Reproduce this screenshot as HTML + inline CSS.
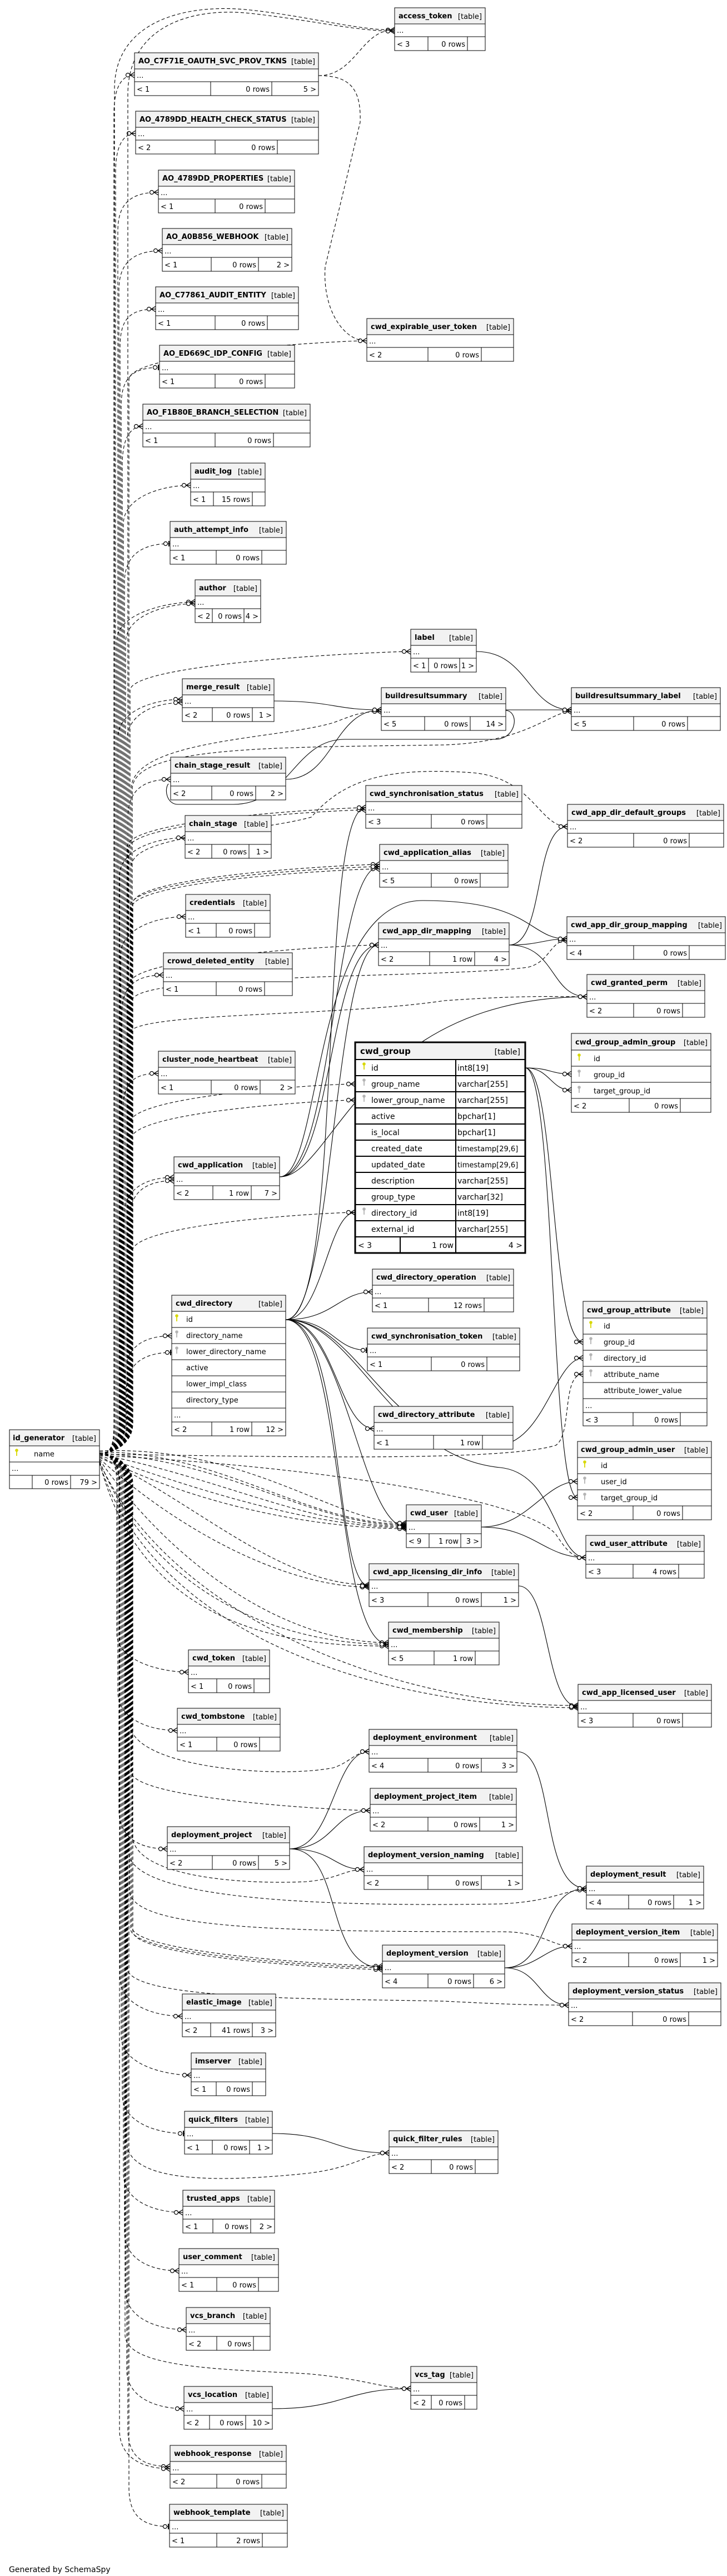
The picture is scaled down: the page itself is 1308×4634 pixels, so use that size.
<!DOCTYPE html>
<html><head><meta charset="utf-8"><style>
html,body{margin:0;padding:0;background:#fff}
svg{display:block}
text{font-family:"DejaVu Sans","Liberation Sans",sans-serif;font-size:13px;fill:#000}
.tn{font-weight:bold}
.e{text-anchor:end}
.bx{fill:#fff;stroke:#000;stroke-width:1}
.hd{fill:#f2f2f2;stroke:#000;stroke-width:1}
.ln{stroke:#000;fill:none;stroke-width:1}
.d{fill:none;stroke:#000;stroke-width:1.1;stroke-dasharray:6 4}
.s{fill:none;stroke:#000;stroke-width:1.1}
</style></head><body>
<svg xmlns="http://www.w3.org/2000/svg" width="1308" height="4634" viewBox="0 0 1308 4634">
<defs>
<marker id="cf" markerUnits="userSpaceOnUse" markerWidth="30" markerHeight="20" viewBox="-20 -10 30 20" refX="0" refY="0" orient="auto" overflow="visible"><path d="M0 -5L-8 0L0 5M0 0L-8 0" fill="none" stroke="#000" stroke-width="1.3" stroke-dasharray="none"/><circle cx="-12" cy="0" r="3.5" fill="#fff" stroke="#000" stroke-width="1.2" stroke-dasharray="none"/></marker>
<marker id="zo" markerUnits="userSpaceOnUse" markerWidth="30" markerHeight="20" viewBox="-20 -10 30 20" refX="0" refY="0" orient="auto" overflow="visible"><path d="M-2 -5V5" fill="none" stroke="#000" stroke-width="2" stroke-dasharray="none"/><circle cx="-8" cy="0" r="3.5" fill="#fff" stroke="#000" stroke-width="1.2" stroke-dasharray="none"/></marker>
<g id="kp"><circle cx="0" cy="0" r="2.8" fill="#d8d800"/><rect x="-0.9" y="0" width="1.8" height="10" fill="#d8d800"/></g>
<g id="kf"><circle cx="0" cy="0" r="2.8" fill="#b4b4b4"/><rect x="-0.9" y="0" width="1.8" height="10" fill="#b4b4b4"/></g>
</defs>

<g class="d">
<path marker-end="url(#cf)" d="M179 2615C200 2615 205 2600 205 2560L205 205C205 155 220 135 242 135"/>
<path marker-end="url(#cf)" d="M179 2615C200 2615 208 2600 208 2560L208 310C208 260 223 240 244 240"/>
<path marker-end="url(#cf)" d="M179 2615C200 2615 212 2600 212 2560L212 416C212 366 235 346 285 346"/>
<path marker-end="url(#cf)" d="M179 2615C200 2615 214 2600 214 2560L214 521C214 471 242 451 292 451"/>
<path marker-end="url(#cf)" d="M179 2615C200 2615 216 2600 216 2560L216 626C216 576 231 556 280 556"/>
<path marker-end="url(#zo)" d="M179 2615C200 2615 218 2600 218 2560L218 731C218 681 237 661 287 661"/>
<path marker-end="url(#cf)" d="M179 2615C200 2615 220 2600 220 2560L220 837C220 787 235 767 257 767"/>
<path marker-end="url(#cf)" d="M179 2615C200 2615 222 2600 222 2560L222 943C222 893 293 873 343 873"/>
<path marker-end="url(#zo)" d="M179 2615C200 2615 224 2600 224 2560L224 1048C224 998 256 978 306 978"/>
<path marker-end="url(#cf)" d="M179 2615C200 2615 210 2600 210 2560L210 1153C210 1103 301 1083 351 1083"/>
<path marker-end="url(#cf)" d="M179 2615C200 2615 226 2600 226 2560L226 1156C226 1106 301 1086 351 1086"/>
<path marker-end="url(#cf)" d="M179 2615C200 2615 212 2600 212 2560L212 1328C212 1278 278 1258 328 1258"/>
<path marker-end="url(#cf)" d="M179 2615C200 2615 228 2600 228 2560L228 1334C228 1284 278 1264 328 1264"/>
<path marker-end="url(#cf)" d="M179 2615C200 2615 230 2600 230 2560L230 1472C230 1422 257 1402 307 1402"/>
<path marker-end="url(#cf)" d="M179 2615C200 2615 215 2600 215 2560L215 1577C215 1527 283 1507 333 1507"/>
<path marker-end="url(#cf)" d="M179 2615C200 2615 217 2600 217 2560L217 1719C217 1669 284 1649 334 1649"/>
<path marker-end="url(#cf)" d="M179 2615C200 2615 219 2600 219 2560L219 1824C219 1774 244 1754 294 1754"/>
<path marker-end="url(#cf)" d="M179 2615C200 2615 221 2600 221 2560L221 2001C221 1951 236 1931 285 1931"/>
<path marker-end="url(#cf)" d="M179 2615C200 2615 223 2600 223 2560L223 2188C223 2138 263 2118 313 2118"/>
<path marker-end="url(#cf)" d="M179 2615C200 2615 233 2600 233 2560L233 2194C233 2144 263 2124 313 2124"/>
<path marker-end="url(#cf)" d="M179 2615C200 2615 225 2600 225 2560L225 2473C225 2423 259 2403 309 2403"/>
<path marker-end="url(#zo)" d="M179 2615C200 2615 227 2600 227 2580L227 2503C227 2453 259 2433 309 2433"/>
<path marker-end="url(#cf)" d="M179 2615C200 2615 206 2600 206 2560L206 160C206 40 330 5 450 18C560 30 640 54 710 54"/>
<path marker-end="url(#cf)" d="M179 2615C200 2615 230 2600 230 2560L230 170C230 50 340 12 450 24C560 36 640 56 710 56"/>
<path marker-end="url(#cf)" d="M179 2615C200 2615 232 2600 232 2560L232 683C232 633 610 613 660 613"/>
<path marker-end="url(#cf)" d="M179 2615C200 2615 234 2600 234 2560L234 1242C234 1192 689 1172 739 1172"/>
<path marker-end="url(#cf)" d="M179 2615C200 2615 236 2600 236 2560L236 1420C236 1330 500 1330 600 1300C640 1285 650 1280 686 1280"/>
<path marker-end="url(#cf)" d="M179 2615C200 2615 238 2600 238 2560L238 1420C238 1340 500 1345 800 1340C950 1335 990 1280 1028 1280"/>
<path marker-end="url(#cf)" d="M179 2615C200 2615 229 2600 229 2560L229 1523C229 1473 608 1453 658 1453"/>
<path marker-end="url(#cf)" d="M179 2615C200 2615 231 2600 231 2560L231 1527C231 1477 608 1457 658 1457"/>
<path marker-end="url(#cf)" d="M179 2615C200 2615 235 2600 235 2560L235 1629C235 1579 633 1559 683 1559"/>
<path marker-end="url(#cf)" d="M179 2615C200 2615 237 2600 237 2560L237 1633C237 1583 633 1563 683 1563"/>
<path marker-end="url(#cf)" d="M179 2615C200 2615 239 2600 239 2560L239 1625C239 1575 633 1555 683 1555"/>
<path marker-end="url(#cf)" d="M179 2615C200 2615 233 2600 233 2560L233 1770C233 1720 631 1700 681 1700"/>
<path marker-end="url(#cf)" d="M179 2615C200 2615 236 2600 236 2560L236 1560C236 1500 450 1500 560 1470C620 1400 700 1380 850 1390C960 1400 970 1487 1021 1487"/>
<path marker-end="url(#cf)" d="M179 2615C200 2615 238 2600 238 2560L238 1800C238 1750 800 1760 950 1740C990 1730 990 1692 1020 1692"/>
<path marker-end="url(#cf)" d="M179 2615C200 2615 232 2600 232 2560L232 1860C232 1820 600 1830 800 1800C950 1790 1000 1793 1056 1793"/>
<path marker-end="url(#cf)" d="M179 2615C200 2615 234 2600 234 2560L234 2020C234 1970 589 1950 639 1950"/>
<path marker-end="url(#cf)" d="M179 2615C200 2615 236 2600 236 2560L236 2049C236 1999 589 1979 639 1979"/>
<path marker-end="url(#cf)" d="M179 2615C200 2615 238 2600 238 2560L238 2251C238 2201 589 2181 639 2181"/>
<path marker-end="url(#cf)" d="M179 2615C200 2615 210 2630 210 2670L210 2938C210 2988 289 3008 339 3008"/>
<path marker-end="url(#cf)" d="M179 2615C200 2615 212 2630 212 2670L212 3043C212 3093 269 3113 319 3113"/>
<path marker-end="url(#cf)" d="M179 2615C200 2615 214 2630 214 2670L214 3256C214 3306 251 3326 301 3326"/>
<path marker-end="url(#cf)" d="M179 2615C200 2615 216 2630 216 2670L216 3557C216 3607 278 3627 328 3627"/>
<path marker-end="url(#cf)" d="M179 2615C200 2615 218 2630 218 2670L218 3663C218 3713 294 3733 344 3733"/>
<path marker-end="url(#zo)" d="M179 2615C200 2615 220 2630 220 2670L220 3768C220 3818 282 3838 332 3838"/>
<path marker-end="url(#cf)" d="M179 2615C200 2615 222 2630 222 2670L222 3910C222 3960 279 3980 329 3980"/>
<path marker-end="url(#cf)" d="M179 2615C200 2615 224 2630 224 2670L224 4015C224 4065 272 4085 322 4085"/>
<path marker-end="url(#cf)" d="M179 2615C200 2615 226 2630 226 2670L226 4121C226 4171 285 4191 335 4191"/>
<path marker-end="url(#cf)" d="M179 2615C200 2615 228 2630 228 2670L228 4263C228 4313 281 4333 331 4333"/>
<path marker-end="url(#cf)" d="M179 2615C200 2615 230 2630 230 2670L230 4369C230 4419 256 4437 306 4437"/>
<path marker-end="url(#cf)" d="M179 2615C200 2615 215 2630 215 2670L215 4371C215 4421 256 4441 306 4441"/>
<path marker-end="url(#zo)" d="M179 2615C200 2615 232 2630 232 2670L232 4475C232 4525 255 4545 305 4545"/>
<path marker-end="url(#cf)" d="M179 2615C200 2615 234 2630 234 2670L234 3100C234 3180 500 3200 600 3180C630 3170 640 3151 664 3151"/>
<path marker-end="url(#cf)" d="M179 2615C200 2615 236 2630 236 2670L236 3187C236 3237 616 3257 666 3257"/>
<path marker-end="url(#cf)" d="M179 2615C200 2615 238 2630 238 2670L238 3300C238 3380 450 3390 550 3385C610 3380 620 3363 655 3363"/>
<path marker-end="url(#cf)" d="M179 2615C200 2615 231 2630 231 2670L231 3330C231 3420 600 3430 900 3425C1000 3420 1010 3400 1055 3400"/>
<path marker-end="url(#cf)" d="M179 2615C200 2615 233 2630 233 2670L233 3400C233 3470 500 3475 900 3475C980 3475 990 3501 1029 3501"/>
<path marker-end="url(#cf)" d="M179 2615C200 2615 235 2630 235 2670L235 3470C235 3520 638 3540 688 3540"/>
<path marker-end="url(#cf)" d="M179 2615C200 2615 237 2630 237 2670L237 3466C237 3516 638 3537 688 3537"/>
<path marker-end="url(#cf)" d="M179 2615C200 2615 239 2630 239 2670L239 3474C239 3524 638 3543 688 3543"/>
<path marker-end="url(#cf)" d="M179 2615C200 2615 229 2630 229 2670L229 3540C229 3600 600 3595 800 3600C900 3605 950 3607 1023 3607"/>
<path marker-end="url(#cf)" d="M179 2615C200 2615 227 2630 227 2670L227 3850C227 3930 400 3925 550 3910C640 3900 660 3873 700 3873"/>
<path marker-end="url(#cf)" d="M179 2615C200 2615 225 2630 225 2670L225 4200C225 4260 400 4262 550 4270C650 4278 690 4297 739 4297"/>
<path marker-end="url(#cf)" d="M179 2612C400 2612 550 2742 731 2742"/>
<path marker-end="url(#cf)" d="M179 2614C420 2630 560 2744 731 2744"/>
<path marker-end="url(#cf)" d="M179 2616C400 2660 560 2746 731 2746"/>
<path marker-end="url(#cf)" d="M179 2618C380 2690 580 2748 731 2748"/>
<path marker-end="url(#cf)" d="M179 2620C380 2720 600 2750 731 2750"/>
<path marker-end="url(#cf)" d="M179 2610C450 2600 600 2740 731 2740"/>
<path marker-end="url(#cf)" d="M179 2622C350 2700 500 2851 664 2851"/>
<path marker-end="url(#cf)" d="M179 2624C330 2760 520 2855 664 2855"/>
<path marker-end="url(#cf)" d="M179 2626C300 2800 500 2955 699 2955"/>
<path marker-end="url(#cf)" d="M179 2628C280 2880 520 2958 699 2958"/>
<path marker-end="url(#cf)" d="M179 2630C260 2950 560 2961 699 2961"/>
<path marker-end="url(#cf)" d="M179 2618C600 2640 950 2700 1000 2760C1020 2790 1030 2802 1054 2802"/>
<path marker-end="url(#cf)" d="M179 2630C300 2900 700 3070 1040 3068"/>
<path marker-end="url(#cf)" d="M179 2632C280 2950 700 3072 1040 3072"/>
<path marker-end="url(#cf)" d="M179 2616C500 2620 900 2630 1000 2600C1030 2580 1010 2472 1049 2472"/>
<path d="M573 136C640 136 650 54 708 54"/>
<path d="M573 136C630 136 650 160 648 220L585 480C580 560 620 613 658 613"/>
</g>

<g class="s">
<path marker-end="url(#cf)" d="M514 2374C600 2374 610 2324 670 2324"/>
<path marker-end="url(#zo)" d="M514 2374C600 2374 600 2429 661 2429"/>
<path marker-end="url(#cf)" d="M514 2374C600 2374 610 2570 673 2570"/>
<path marker-end="url(#cf)" d="M514 2374C650 2374 700 2620 900 2600C980 2590 1000 2443 1049 2443"/>
<path marker-end="url(#cf)" d="M514 2374C620 2374 650 2747 731 2747"/>
<path marker-end="url(#cf)" d="M514 2374C620 2374 600 2853 664 2853"/>
<path marker-end="url(#cf)" d="M514 2374C620 2374 600 2958 699 2958"/>
<path marker-end="url(#cf)" d="M514 2374C580 2374 590 2181 639 2181"/>
<path marker-end="url(#cf)" d="M514 2374C600 2374 600 1700 681 1700"/>
<path marker-end="url(#cf)" d="M514 2374C620 2374 570 1453 658 1453"/>
<path marker-end="url(#cf)" d="M514 2374C640 2374 700 2620 900 2640C1000 2650 1000 2802 1054 2802"/>
<path marker-end="url(#cf)" d="M945 1921C990 1921 990 1932 1028 1932"/>
<path marker-end="url(#cf)" d="M945 1921C990 1921 990 1961 1028 1961"/>
<path marker-end="url(#cf)" d="M945 1921C1000 1921 990 2414 1049 2414"/>
<path marker-end="url(#cf)" d="M945 1921C1000 1921 990 2694 1039 2694"/>
<path marker-end="url(#cf)" d="M866 2747C950 2747 980 2665 1039 2665"/>
<path marker-end="url(#cf)" d="M866 2747C960 2747 980 2802 1054 2802"/>
<path marker-end="url(#cf)" d="M503 2117C600 2117 590 1700 681 1700"/>
<path marker-end="url(#cf)" d="M503 2117C600 2117 600 1559 683 1559"/>
<path marker-end="url(#cf)" d="M503 2117C580 2117 560 1620 760 1620C960 1620 950 1689 1020 1689"/>
<path marker-end="url(#cf)" d="M503 2117C600 2117 650 1795 1056 1793"/>
<path marker-end="url(#cf)" d="M916 1700C980 1700 960 1487 1021 1487"/>
<path marker-end="url(#cf)" d="M916 1700C970 1700 980 1689 1020 1689"/>
<path marker-end="url(#cf)" d="M916 1700C1000 1700 990 1793 1056 1793"/>
<path marker-end="url(#cf)" d="M933 2853C990 2853 980 3070 1040 3070"/>
<path marker-end="url(#cf)" d="M493 1261C600 1261 600 1277 686 1277"/>
<path marker-end="url(#cf)" d="M514 1402C600 1402 600 1277 686 1277"/>
<path marker-end="url(#cf)" d="M910 1277L1028 1277"/>
<path marker-end="url(#cf)" d="M857 1172C950 1172 950 1277 1028 1277"/>
<path d="M910 1278C935 1280 930 1330 890 1330L620 1330C530 1330 520 1447 420 1447L320 1447C300 1447 295 1420 303 1410"/>
<path marker-end="url(#cf)" d="M521 3326C600 3326 600 3151 664 3151"/>
<path marker-end="url(#cf)" d="M521 3326C600 3326 600 3257 666 3257"/>
<path marker-end="url(#cf)" d="M521 3326C600 3326 600 3363 655 3363"/>
<path marker-end="url(#cf)" d="M521 3326C620 3326 580 3540 688 3540"/>
<path marker-end="url(#cf)" d="M930 3151C1000 3151 970 3397 1055 3397"/>
<path marker-end="url(#cf)" d="M908 3540C990 3540 970 3397 1055 3397"/>
<path marker-end="url(#cf)" d="M908 3540C970 3540 980 3501 1029 3501"/>
<path marker-end="url(#cf)" d="M908 3540C970 3540 970 3607 1023 3607"/>
<path marker-end="url(#cf)" d="M490 3838C600 3838 600 3873 700 3873"/>
<path marker-end="url(#cf)" d="M490 4333C620 4333 620 4297 739 4297"/>
</g>

<g transform="translate(710,14)"><rect class="bx" width="163" height="77"/><rect class="hd" width="163" height="29"/><path class="ln" d="M0 52H163M60 52V77M131 52V77"/><text class="tn" x="7" y="19">access_token</text><text class="e" x="157" y="20">[table]</text><text x="4" y="45">...</text><text x="4" y="70">&lt; 3</text><text class="e" x="127" y="70">0 rows</text></g>
<g transform="translate(242,95)"><rect class="bx" width="331" height="77"/><rect class="hd" width="331" height="29"/><path class="ln" d="M0 52H331M137 52V77M247 52V77"/><text class="tn" x="7" y="19">AO_C7F71E_OAUTH_SVC_PROV_TKNS</text><text class="e" x="325" y="20">[table]</text><text x="4" y="45">...</text><text x="4" y="70">&lt; 1</text><text class="e" x="243" y="70">0 rows</text><text class="e" x="327" y="70">5 &gt;</text></g>
<g transform="translate(244,200)"><rect class="bx" width="329" height="77"/><rect class="hd" width="329" height="29"/><path class="ln" d="M0 52H329M143 52V77M255 52V77"/><text class="tn" x="7" y="19">AO_4789DD_HEALTH_CHECK_STATUS</text><text class="e" x="323" y="20">[table]</text><text x="4" y="45">...</text><text x="4" y="70">&lt; 2</text><text class="e" x="251" y="70">0 rows</text></g>
<g transform="translate(285,306)"><rect class="bx" width="245" height="77"/><rect class="hd" width="245" height="29"/><path class="ln" d="M0 52H245M102 52V77M192 52V77"/><text class="tn" x="7" y="19">AO_4789DD_PROPERTIES</text><text class="e" x="239" y="20">[table]</text><text x="4" y="45">...</text><text x="4" y="70">&lt; 1</text><text class="e" x="188" y="70">0 rows</text></g>
<g transform="translate(292,411)"><rect class="bx" width="233" height="77"/><rect class="hd" width="233" height="29"/><path class="ln" d="M0 52H233M88 52V77M173 52V77"/><text class="tn" x="7" y="19">AO_A0B856_WEBHOOK</text><text class="e" x="227" y="20">[table]</text><text x="4" y="45">...</text><text x="4" y="70">&lt; 1</text><text class="e" x="169" y="70">0 rows</text><text class="e" x="229" y="70">2 &gt;</text></g>
<g transform="translate(280,516)"><rect class="bx" width="257" height="77"/><rect class="hd" width="257" height="29"/><path class="ln" d="M0 52H257M107 52V77M201 52V77"/><text class="tn" x="7" y="19">AO_C77861_AUDIT_ENTITY</text><text class="e" x="251" y="20">[table]</text><text x="4" y="45">...</text><text x="4" y="70">&lt; 1</text><text class="e" x="197" y="70">0 rows</text></g>
<g transform="translate(287,621)"><rect class="bx" width="243" height="77"/><rect class="hd" width="243" height="29"/><path class="ln" d="M0 52H243M100 52V77M190 52V77"/><text class="tn" x="7" y="19">AO_ED669C_IDP_CONFIG</text><text class="e" x="237" y="20">[table]</text><text x="4" y="45">...</text><text x="4" y="70">&lt; 1</text><text class="e" x="186" y="70">0 rows</text></g>
<g transform="translate(257,727)"><rect class="bx" width="301" height="77"/><rect class="hd" width="301" height="29"/><path class="ln" d="M0 52H301M130 52V77M235 52V77"/><text class="tn" x="7" y="19">AO_F1B80E_BRANCH_SELECTION</text><text class="e" x="295" y="20">[table]</text><text x="4" y="45">...</text><text x="4" y="70">&lt; 1</text><text class="e" x="231" y="70">0 rows</text></g>
<g transform="translate(660,573)"><rect class="bx" width="264" height="77"/><rect class="hd" width="264" height="29"/><path class="ln" d="M0 52H264M110 52V77M206 52V77"/><text class="tn" x="7" y="19">cwd_expirable_user_token</text><text class="e" x="258" y="20">[table]</text><text x="4" y="45">...</text><text x="4" y="70">&lt; 2</text><text class="e" x="202" y="70">0 rows</text></g>
<g transform="translate(343,833)"><rect class="bx" width="134" height="77"/><rect class="hd" width="134" height="29"/><path class="ln" d="M0 52H134M41 52V77M111 52V77"/><text class="tn" x="7" y="19">audit_log</text><text class="e" x="128" y="20">[table]</text><text x="4" y="45">...</text><text x="4" y="70">&lt; 1</text><text class="e" x="107" y="70">15 rows</text></g>
<g transform="translate(306,938)"><rect class="bx" width="209" height="77"/><rect class="hd" width="209" height="29"/><path class="ln" d="M0 52H209M83 52V77M165 52V77"/><text class="tn" x="7" y="19">auth_attempt_info</text><text class="e" x="203" y="20">[table]</text><text x="4" y="45">...</text><text x="4" y="70">&lt; 1</text><text class="e" x="161" y="70">0 rows</text></g>
<g transform="translate(351,1043)"><rect class="bx" width="118" height="77"/><rect class="hd" width="118" height="29"/><path class="ln" d="M0 52H118M31 52V77M88 52V77"/><text class="tn" x="7" y="19">author</text><text class="e" x="112" y="20">[table]</text><text x="4" y="45">...</text><text x="4" y="70">&lt; 2</text><text class="e" x="84" y="70">0 rows</text><text class="e" x="114" y="70">4 &gt;</text></g>
<g transform="translate(739,1132)"><rect class="bx" width="118" height="77"/><rect class="hd" width="118" height="29"/><path class="ln" d="M0 52H118M32 52V77M88 52V77"/><text class="tn" x="7" y="19">label</text><text class="e" x="112" y="20">[table]</text><text x="4" y="45">...</text><text x="4" y="70">&lt; 1</text><text class="e" x="84" y="70">0 rows</text><text class="e" x="114" y="70">1 &gt;</text></g>
<g transform="translate(328,1221)"><rect class="bx" width="165" height="77"/><rect class="hd" width="165" height="29"/><path class="ln" d="M0 52H165M54 52V77M126 52V77"/><text class="tn" x="7" y="19">merge_result</text><text class="e" x="159" y="20">[table]</text><text x="4" y="45">...</text><text x="4" y="70">&lt; 2</text><text class="e" x="122" y="70">0 rows</text><text class="e" x="161" y="70">1 &gt;</text></g>
<g transform="translate(686,1237)"><rect class="bx" width="224" height="77"/><rect class="hd" width="224" height="29"/><path class="ln" d="M0 52H224M78 52V77M160 52V77"/><text class="tn" x="7" y="19">buildresultsummary</text><text class="e" x="218" y="20">[table]</text><text x="4" y="45">...</text><text x="4" y="70">&lt; 5</text><text class="e" x="156" y="70">0 rows</text><text class="e" x="220" y="70">14 &gt;</text></g>
<g transform="translate(1028,1237)"><rect class="bx" width="268" height="77"/><rect class="hd" width="268" height="29"/><path class="ln" d="M0 52H268M112 52V77M209 52V77"/><text class="tn" x="7" y="19">buildresultsummary_label</text><text class="e" x="262" y="20">[table]</text><text x="4" y="45">...</text><text x="4" y="70">&lt; 5</text><text class="e" x="205" y="70">0 rows</text></g>
<g transform="translate(307,1362)"><rect class="bx" width="207" height="77"/><rect class="hd" width="207" height="29"/><path class="ln" d="M0 52H207M74 52V77M153 52V77"/><text class="tn" x="7" y="19">chain_stage_result</text><text class="e" x="201" y="20">[table]</text><text x="4" y="45">...</text><text x="4" y="70">&lt; 2</text><text class="e" x="149" y="70">0 rows</text><text class="e" x="203" y="70">2 &gt;</text></g>
<g transform="translate(333,1467)"><rect class="bx" width="155" height="77"/><rect class="hd" width="155" height="29"/><path class="ln" d="M0 52H155M48 52V77M115 52V77"/><text class="tn" x="7" y="19">chain_stage</text><text class="e" x="149" y="20">[table]</text><text x="4" y="45">...</text><text x="4" y="70">&lt; 2</text><text class="e" x="111" y="70">0 rows</text><text class="e" x="151" y="70">1 &gt;</text></g>
<g transform="translate(658,1413)"><rect class="bx" width="281" height="77"/><rect class="hd" width="281" height="29"/><path class="ln" d="M0 52H281M118 52V77M218 52V77"/><text class="tn" x="7" y="19">cwd_synchronisation_status</text><text class="e" x="275" y="20">[table]</text><text x="4" y="45">...</text><text x="4" y="70">&lt; 3</text><text class="e" x="214" y="70">0 rows</text></g>
<g transform="translate(1021,1447)"><rect class="bx" width="281" height="77"/><rect class="hd" width="281" height="29"/><path class="ln" d="M0 52H281M119 52V77M219 52V77"/><text class="tn" x="7" y="19">cwd_app_dir_default_groups</text><text class="e" x="275" y="20">[table]</text><text x="4" y="45">...</text><text x="4" y="70">&lt; 2</text><text class="e" x="215" y="70">0 rows</text></g>
<g transform="translate(683,1519)"><rect class="bx" width="231" height="77"/><rect class="hd" width="231" height="29"/><path class="ln" d="M0 52H231M93 52V77M181 52V77"/><text class="tn" x="7" y="19">cwd_application_alias</text><text class="e" x="225" y="20">[table]</text><text x="4" y="45">...</text><text x="4" y="70">&lt; 5</text><text class="e" x="177" y="70">0 rows</text></g>
<g transform="translate(334,1609)"><rect class="bx" width="152" height="77"/><rect class="hd" width="152" height="29"/><path class="ln" d="M0 52H152M55 52V77M124 52V77"/><text class="tn" x="7" y="19">credentials</text><text class="e" x="146" y="20">[table]</text><text x="4" y="45">...</text><text x="4" y="70">&lt; 1</text><text class="e" x="120" y="70">0 rows</text></g>
<g transform="translate(1020,1649)"><rect class="bx" width="285" height="77"/><rect class="hd" width="285" height="29"/><path class="ln" d="M0 52H285M120 52V77M220 52V77"/><text class="tn" x="7" y="19">cwd_app_dir_group_mapping</text><text class="e" x="279" y="20">[table]</text><text x="4" y="45">...</text><text x="4" y="70">&lt; 4</text><text class="e" x="216" y="70">0 rows</text></g>
<g transform="translate(681,1660)"><rect class="bx" width="235" height="77"/><rect class="hd" width="235" height="29"/><path class="ln" d="M0 52H235M92 52V77M173 52V77"/><text class="tn" x="7" y="19">cwd_app_dir_mapping</text><text class="e" x="229" y="20">[table]</text><text x="4" y="45">...</text><text x="4" y="70">&lt; 2</text><text class="e" x="169" y="70">1 row</text><text class="e" x="231" y="70">4 &gt;</text></g>
<g transform="translate(294,1714)"><rect class="bx" width="232" height="77"/><rect class="hd" width="232" height="29"/><path class="ln" d="M0 52H232M95 52V77M182 52V77"/><text class="tn" x="7" y="19">crowd_deleted_entity</text><text class="e" x="226" y="20">[table]</text><text x="4" y="45">...</text><text x="4" y="70">&lt; 1</text><text class="e" x="178" y="70">0 rows</text></g>
<g transform="translate(1056,1753)"><rect class="bx" width="212" height="77"/><rect class="hd" width="212" height="29"/><path class="ln" d="M0 52H212M84 52V77M172 52V77"/><text class="tn" x="7" y="19">cwd_granted_perm</text><text class="e" x="206" y="20">[table]</text><text x="4" y="45">...</text><text x="4" y="70">&lt; 2</text><text class="e" x="168" y="70">0 rows</text></g>
<g transform="translate(285,1891)"><rect class="bx" width="246" height="77"/><rect class="hd" width="246" height="29"/><path class="ln" d="M0 52H246M95 52V77M183 52V77"/><text class="tn" x="7" y="19">cluster_node_heartbeat</text><text class="e" x="240" y="20">[table]</text><text x="4" y="45">...</text><text x="4" y="70">&lt; 1</text><text class="e" x="179" y="70">0 rows</text><text class="e" x="242" y="70">2 &gt;</text></g>
<g transform="translate(313,2081)"><rect class="bx" width="190" height="77"/><rect class="hd" width="190" height="29"/><path class="ln" d="M0 52H190M70 52V77M139 52V77"/><text class="tn" x="7" y="19">cwd_application</text><text class="e" x="184" y="20">[table]</text><text x="4" y="45">...</text><text x="4" y="70">&lt; 2</text><text class="e" x="135" y="70">1 row</text><text class="e" x="186" y="70">7 &gt;</text></g>
<g transform="translate(670,2283)"><rect class="bx" width="254" height="77"/><rect class="hd" width="254" height="29"/><path class="ln" d="M0 52H254M101 52V77M201 52V77"/><text class="tn" x="7" y="19">cwd_directory_operation</text><text class="e" x="248" y="20">[table]</text><text x="4" y="45">...</text><text x="4" y="70">&lt; 1</text><text class="e" x="197" y="70">12 rows</text></g>
<g transform="translate(661,2389)"><rect class="bx" width="274" height="77"/><rect class="hd" width="274" height="29"/><path class="ln" d="M0 52H274M115 52V77M215 52V77"/><text class="tn" x="7" y="19">cwd_synchronisation_token</text><text class="e" x="268" y="20">[table]</text><text x="4" y="45">...</text><text x="4" y="70">&lt; 1</text><text class="e" x="211" y="70">0 rows</text></g>
<g transform="translate(673,2530)"><rect class="bx" width="250" height="77"/><rect class="hd" width="250" height="29"/><path class="ln" d="M0 52H250M107 52V77M195 52V77"/><text class="tn" x="7" y="19">cwd_directory_attribute</text><text class="e" x="244" y="20">[table]</text><text x="4" y="45">...</text><text x="4" y="70">&lt; 1</text><text class="e" x="191" y="70">1 row</text></g>
<g transform="translate(731,2707)"><rect class="bx" width="135" height="77"/><rect class="hd" width="135" height="29"/><path class="ln" d="M0 52H135M41 52V77M98 52V77"/><text class="tn" x="7" y="19">cwd_user</text><text class="e" x="129" y="20">[table]</text><text x="4" y="45">...</text><text x="4" y="70">&lt; 9</text><text class="e" x="94" y="70">1 row</text><text class="e" x="131" y="70">3 &gt;</text></g>
<g transform="translate(1054,2762)"><rect class="bx" width="213" height="77"/><rect class="hd" width="213" height="29"/><path class="ln" d="M0 52H213M85 52V77M167 52V77"/><text class="tn" x="7" y="19">cwd_user_attribute</text><text class="e" x="207" y="20">[table]</text><text x="4" y="45">...</text><text x="4" y="70">&lt; 3</text><text class="e" x="163" y="70">4 rows</text></g>
<g transform="translate(664,2813)"><rect class="bx" width="269" height="77"/><rect class="hd" width="269" height="29"/><path class="ln" d="M0 52H269M106 52V77M202 52V77"/><text class="tn" x="7" y="19">cwd_app_licensing_dir_info</text><text class="e" x="263" y="20">[table]</text><text x="4" y="45">...</text><text x="4" y="70">&lt; 3</text><text class="e" x="198" y="70">0 rows</text><text class="e" x="265" y="70">1 &gt;</text></g>
<g transform="translate(699,2918)"><rect class="bx" width="199" height="77"/><rect class="hd" width="199" height="29"/><path class="ln" d="M0 52H199M82 52V77M156 52V77"/><text class="tn" x="7" y="19">cwd_membership</text><text class="e" x="193" y="20">[table]</text><text x="4" y="45">...</text><text x="4" y="70">&lt; 5</text><text class="e" x="152" y="70">1 row</text></g>
<g transform="translate(339,2968)"><rect class="bx" width="146" height="77"/><rect class="hd" width="146" height="29"/><path class="ln" d="M0 52H146M51 52V77M118 52V77"/><text class="tn" x="7" y="19">cwd_token</text><text class="e" x="140" y="20">[table]</text><text x="4" y="45">...</text><text x="4" y="70">&lt; 1</text><text class="e" x="114" y="70">0 rows</text></g>
<g transform="translate(1040,3030)"><rect class="bx" width="240" height="77"/><rect class="hd" width="240" height="29"/><path class="ln" d="M0 52H240M99 52V77M188 52V77"/><text class="tn" x="7" y="19">cwd_app_licensed_user</text><text class="e" x="234" y="20">[table]</text><text x="4" y="45">...</text><text x="4" y="70">&lt; 3</text><text class="e" x="184" y="70">0 rows</text></g>
<g transform="translate(319,3073)"><rect class="bx" width="185" height="77"/><rect class="hd" width="185" height="29"/><path class="ln" d="M0 52H185M71 52V77M148 52V77"/><text class="tn" x="7" y="19">cwd_tombstone</text><text class="e" x="179" y="20">[table]</text><text x="4" y="45">...</text><text x="4" y="70">&lt; 1</text><text class="e" x="144" y="70">0 rows</text></g>
<g transform="translate(664,3111)"><rect class="bx" width="266" height="77"/><rect class="hd" width="266" height="29"/><path class="ln" d="M0 52H266M106 52V77M202 52V77"/><text class="tn" x="7" y="19">deployment_environment</text><text class="e" x="260" y="20">[table]</text><text x="4" y="45">...</text><text x="4" y="70">&lt; 4</text><text class="e" x="198" y="70">0 rows</text><text class="e" x="262" y="70">3 &gt;</text></g>
<g transform="translate(666,3217)"><rect class="bx" width="263" height="77"/><rect class="hd" width="263" height="29"/><path class="ln" d="M0 52H263M104 52V77M197 52V77"/><text class="tn" x="7" y="19">deployment_project_item</text><text class="e" x="257" y="20">[table]</text><text x="4" y="45">...</text><text x="4" y="70">&lt; 2</text><text class="e" x="193" y="70">0 rows</text><text class="e" x="259" y="70">1 &gt;</text></g>
<g transform="translate(301,3286)"><rect class="bx" width="220" height="77"/><rect class="hd" width="220" height="29"/><path class="ln" d="M0 52H220M81 52V77M164 52V77"/><text class="tn" x="7" y="19">deployment_project</text><text class="e" x="214" y="20">[table]</text><text x="4" y="45">...</text><text x="4" y="70">&lt; 2</text><text class="e" x="160" y="70">0 rows</text><text class="e" x="216" y="70">5 &gt;</text></g>
<g transform="translate(655,3322)"><rect class="bx" width="285" height="77"/><rect class="hd" width="285" height="29"/><path class="ln" d="M0 52H285M115 52V77M211 52V77"/><text class="tn" x="7" y="19">deployment_version_naming</text><text class="e" x="279" y="20">[table]</text><text x="4" y="45">...</text><text x="4" y="70">&lt; 2</text><text class="e" x="207" y="70">0 rows</text><text class="e" x="281" y="70">1 &gt;</text></g>
<g transform="translate(1055,3357)"><rect class="bx" width="211" height="77"/><rect class="hd" width="211" height="29"/><path class="ln" d="M0 52H211M76 52V77M157 52V77"/><text class="tn" x="7" y="19">deployment_result</text><text class="e" x="205" y="20">[table]</text><text x="4" y="45">...</text><text x="4" y="70">&lt; 4</text><text class="e" x="153" y="70">0 rows</text><text class="e" x="207" y="70">1 &gt;</text></g>
<g transform="translate(1029,3461)"><rect class="bx" width="262" height="77"/><rect class="hd" width="262" height="29"/><path class="ln" d="M0 52H262M102 52V77M195 52V77"/><text class="tn" x="7" y="19">deployment_version_item</text><text class="e" x="256" y="20">[table]</text><text x="4" y="45">...</text><text x="4" y="70">&lt; 2</text><text class="e" x="191" y="70">0 rows</text><text class="e" x="258" y="70">1 &gt;</text></g>
<g transform="translate(688,3499)"><rect class="bx" width="220" height="77"/><rect class="hd" width="220" height="29"/><path class="ln" d="M0 52H220M82 52V77M164 52V77"/><text class="tn" x="7" y="19">deployment_version</text><text class="e" x="214" y="20">[table]</text><text x="4" y="45">...</text><text x="4" y="70">&lt; 4</text><text class="e" x="160" y="70">0 rows</text><text class="e" x="216" y="70">6 &gt;</text></g>
<g transform="translate(1023,3567)"><rect class="bx" width="274" height="77"/><rect class="hd" width="274" height="29"/><path class="ln" d="M0 52H274M115 52V77M216 52V77"/><text class="tn" x="7" y="19">deployment_version_status</text><text class="e" x="268" y="20">[table]</text><text x="4" y="45">...</text><text x="4" y="70">&lt; 2</text><text class="e" x="212" y="70">0 rows</text></g>
<g transform="translate(328,3587)"><rect class="bx" width="168" height="77"/><rect class="hd" width="168" height="29"/><path class="ln" d="M0 52H168M51 52V77M126 52V77"/><text class="tn" x="7" y="19">elastic_image</text><text class="e" x="162" y="20">[table]</text><text x="4" y="45">...</text><text x="4" y="70">&lt; 2</text><text class="e" x="122" y="70">41 rows</text><text class="e" x="164" y="70">3 &gt;</text></g>
<g transform="translate(344,3693)"><rect class="bx" width="134" height="77"/><rect class="hd" width="134" height="29"/><path class="ln" d="M0 52H134M45 52V77M110 52V77"/><text class="tn" x="7" y="19">imserver</text><text class="e" x="128" y="20">[table]</text><text x="4" y="45">...</text><text x="4" y="70">&lt; 1</text><text class="e" x="106" y="70">0 rows</text></g>
<g transform="translate(332,3798)"><rect class="bx" width="158" height="77"/><rect class="hd" width="158" height="29"/><path class="ln" d="M0 52H158M50 52V77M117 52V77"/><text class="tn" x="7" y="19">quick_filters</text><text class="e" x="152" y="20">[table]</text><text x="4" y="45">...</text><text x="4" y="70">&lt; 1</text><text class="e" x="113" y="70">0 rows</text><text class="e" x="154" y="70">1 &gt;</text></g>
<g transform="translate(700,3833)"><rect class="bx" width="196" height="77"/><rect class="hd" width="196" height="29"/><path class="ln" d="M0 52H196M76 52V77M155 52V77"/><text class="tn" x="7" y="19">quick_filter_rules</text><text class="e" x="190" y="20">[table]</text><text x="4" y="45">...</text><text x="4" y="70">&lt; 2</text><text class="e" x="151" y="70">0 rows</text></g>
<g transform="translate(329,3940)"><rect class="bx" width="165" height="77"/><rect class="hd" width="165" height="29"/><path class="ln" d="M0 52H165M54 52V77M122 52V77"/><text class="tn" x="7" y="19">trusted_apps</text><text class="e" x="159" y="20">[table]</text><text x="4" y="45">...</text><text x="4" y="70">&lt; 1</text><text class="e" x="118" y="70">0 rows</text><text class="e" x="161" y="70">2 &gt;</text></g>
<g transform="translate(322,4045)"><rect class="bx" width="179" height="77"/><rect class="hd" width="179" height="29"/><path class="ln" d="M0 52H179M68 52V77M143 52V77"/><text class="tn" x="7" y="19">user_comment</text><text class="e" x="173" y="20">[table]</text><text x="4" y="45">...</text><text x="4" y="70">&lt; 1</text><text class="e" x="139" y="70">0 rows</text></g>
<g transform="translate(335,4151)"><rect class="bx" width="151" height="77"/><rect class="hd" width="151" height="29"/><path class="ln" d="M0 52H151M55 52V77M121 52V77"/><text class="tn" x="7" y="19">vcs_branch</text><text class="e" x="145" y="20">[table]</text><text x="4" y="45">...</text><text x="4" y="70">&lt; 2</text><text class="e" x="117" y="70">0 rows</text></g>
<g transform="translate(739,4257)"><rect class="bx" width="119" height="77"/><rect class="hd" width="119" height="29"/><path class="ln" d="M0 52H119M37 52V77M97 52V77"/><text class="tn" x="7" y="19">vcs_tag</text><text class="e" x="113" y="20">[table]</text><text x="4" y="45">...</text><text x="4" y="70">&lt; 2</text><text class="e" x="93" y="70">0 rows</text></g>
<g transform="translate(331,4293)"><rect class="bx" width="159" height="77"/><rect class="hd" width="159" height="29"/><path class="ln" d="M0 52H159M46 52V77M111 52V77"/><text class="tn" x="7" y="19">vcs_location</text><text class="e" x="153" y="20">[table]</text><text x="4" y="45">...</text><text x="4" y="70">&lt; 2</text><text class="e" x="107" y="70">0 rows</text><text class="e" x="155" y="70">10 &gt;</text></g>
<g transform="translate(306,4399)"><rect class="bx" width="209" height="77"/><rect class="hd" width="209" height="29"/><path class="ln" d="M0 52H209M84 52V77M165 52V77"/><text class="tn" x="7" y="19">webhook_response</text><text class="e" x="203" y="20">[table]</text><text x="4" y="45">...</text><text x="4" y="70">&lt; 2</text><text class="e" x="161" y="70">0 rows</text></g>
<g transform="translate(305,4505)"><rect class="bx" width="212" height="77"/><rect class="hd" width="212" height="29"/><path class="ln" d="M0 52H212M85 52V77M167 52V77"/><text class="tn" x="7" y="19">webhook_template</text><text class="e" x="206" y="20">[table]</text><text x="4" y="45">...</text><text x="4" y="70">&lt; 1</text><text class="e" x="163" y="70">2 rows</text></g>

<g>
<rect x="639" y="1875" width="306" height="379" fill="#fff" stroke="#000" stroke-width="3"/>
<rect x="640.5" y="1876.5" width="303" height="29.5" fill="#f2f2f2"/>
<path d="M639 1906H945M639 1935H945M639 1964H945M639 1993H945M639 2022H945M639 2051H945M639 2080H945M639 2109H945M639 2138H945M639 2167H945M639 2196H945M639 2225H945M820 1906V2254M720 2225V2254" stroke="#000" stroke-width="2" fill="none"/>
<text class="tn" x="648" y="1896" style="font-size:15px">cwd_group</text><text class="e" x="936" y="1897" style="font-size:14px">[table]</text>
<g style="font-size:14px">
<use href="#kp" x="655" y="1914"/><text x="668" y="1926" style="font-size:14px">id</text><text x="823" y="1926" style="font-size:14px">int8[19]</text>
<use href="#kf" x="655" y="1943"/><text x="668" y="1955" style="font-size:14px">group_name</text><text x="823" y="1955" style="font-size:14px">varchar[255]</text>
<use href="#kf" x="655" y="1972"/><text x="668" y="1984" style="font-size:14px">lower_group_name</text><text x="823" y="1984" style="font-size:14px">varchar[255]</text>
<text x="668" y="2013" style="font-size:14px">active</text><text x="823" y="2013" style="font-size:14px">bpchar[1]</text>
<text x="668" y="2042" style="font-size:14px">is_local</text><text x="823" y="2042" style="font-size:14px">bpchar[1]</text>
<text x="668" y="2071" style="font-size:14px">created_date</text><text x="823" y="2071" style="font-size:13px">timestamp[29,6]</text>
<text x="668" y="2100" style="font-size:14px">updated_date</text><text x="823" y="2100" style="font-size:13px">timestamp[29,6]</text>
<text x="668" y="2129" style="font-size:14px">description</text><text x="823" y="2129" style="font-size:14px">varchar[255]</text>
<text x="668" y="2158" style="font-size:14px">group_type</text><text x="823" y="2158" style="font-size:14px">varchar[32]</text>
<use href="#kf" x="655" y="2175"/><text x="668" y="2187" style="font-size:14px">directory_id</text><text x="823" y="2187" style="font-size:14px">int8[19]</text>
<text x="668" y="2216" style="font-size:14px">external_id</text><text x="823" y="2216" style="font-size:14px">varchar[255]</text>
<text x="644" y="2245" style="font-size:14px">&lt; 3</text><text class="e" x="816" y="2245" style="font-size:14px">1 row</text><text class="e" x="940" y="2245" style="font-size:14px">4 &gt;</text>
</g>
</g>

<g>
<rect class="bx" x="1028" y="1859" width="251" height="142"/><rect class="hd" x="1028" y="1859" width="251" height="30"/>
<path class="ln" d="M1028 1918H1279M1028 1947H1279M1028 1976H1279M1132 1976V2001M1224 1976V2001"/>
<text class="tn" x="1035" y="1879">cwd_group_admin_group</text><text class="e" x="1273" y="1880">[table]</text>
<use href="#kp" x="1042" y="1898"/><text x="1068" y="1909">id</text>
<use href="#kf" x="1042" y="1927"/><text x="1068" y="1938">group_id</text>
<use href="#kf" x="1042" y="1956"/><text x="1068" y="1967">target_group_id</text>
<text x="1032" y="1994">&lt; 2</text><text class="e" x="1220" y="1994">0 rows</text>
</g>

<g>
<rect class="bx" x="309" y="2330" width="205" height="253"/><rect class="hd" x="309" y="2330" width="205" height="29"/>
<path class="ln" d="M309 2388H514M309 2417H514M309 2446H514M309 2475H514M309 2504H514M309 2533H514M309 2558H514M381 2558V2583M453 2558V2583"/>
<text class="tn" x="316" y="2349">cwd_directory</text><text class="e" x="508" y="2350">[table]</text>
<use href="#kp" x="318" y="2367"/><text x="335" y="2378">id</text>
<use href="#kf" x="318" y="2396"/><text x="335" y="2407">directory_name</text>
<use href="#kf" x="318" y="2425"/><text x="335" y="2436">lower_directory_name</text>
<text x="335" y="2465">active</text>
<text x="335" y="2494">lower_impl_class</text>
<text x="335" y="2523">directory_type</text>
<text x="313" y="2550">...</text>
<text x="313" y="2576">&lt; 2</text><text class="e" x="449" y="2576">1 row</text><text class="e" x="510" y="2576">12 &gt;</text>
</g>

<g>
<rect class="bx" x="1049" y="2341" width="223" height="224"/><rect class="hd" x="1049" y="2341" width="223" height="30"/>
<path class="ln" d="M1049 2400H1272M1049 2429H1272M1049 2458H1272M1049 2487H1272M1049 2516H1272M1049 2541H1272M1139 2541V2565M1224 2541V2565"/>
<text class="tn" x="1056" y="2361">cwd_group_attribute</text><text class="e" x="1266" y="2362">[table]</text>
<use href="#kp" x="1063" y="2379"/><text x="1086" y="2390">id</text>
<use href="#kf" x="1063" y="2408"/><text x="1086" y="2419">group_id</text>
<use href="#kf" x="1063" y="2437"/><text x="1086" y="2448">directory_id</text>
<use href="#kf" x="1063" y="2466"/><text x="1086" y="2477">attribute_name</text>
<text x="1086" y="2506">attribute_lower_value</text>
<text x="1053" y="2533">...</text>
<text x="1053" y="2559">&lt; 3</text><text class="e" x="1220" y="2559">0 rows</text>
</g>

<g>
<rect class="bx" x="17" y="2572" width="162" height="106"/><rect class="hd" x="17" y="2572" width="162" height="29"/>
<path class="ln" d="M17 2630H179M17 2654H179M58 2654V2678M127 2654V2678"/>
<text class="tn" x="23" y="2591">id_generator</text><text class="e" x="173" y="2592">[table]</text>
<use href="#kp" x="30" y="2609"/><text x="61" y="2620">name</text>
<text x="21" y="2646">...</text>
<text class="e" x="123" y="2671">0 rows</text><text class="e" x="175" y="2671">79 &gt;</text>
</g>

<g>
<rect class="bx" x="1039" y="2593" width="241" height="141"/><rect class="hd" x="1039" y="2593" width="241" height="29"/>
<path class="ln" d="M1039 2651H1280M1039 2680H1280M1039 2709H1280M1139 2709V2734M1228 2709V2734"/>
<text class="tn" x="1045" y="2612">cwd_group_admin_user</text><text class="e" x="1274" y="2613">[table]</text>
<use href="#kp" x="1052" y="2630"/><text x="1081" y="2641">id</text>
<use href="#kf" x="1052" y="2659"/><text x="1081" y="2670">user_id</text>
<use href="#kf" x="1052" y="2688"/><text x="1081" y="2699">target_group_id</text>
<text x="1043" y="2727">&lt; 2</text><text class="e" x="1224" y="2727">0 rows</text>
</g>

<text x="16" y="4627" style="font-size:14px">Generated by SchemaSpy</text>
</svg>
</body></html>
